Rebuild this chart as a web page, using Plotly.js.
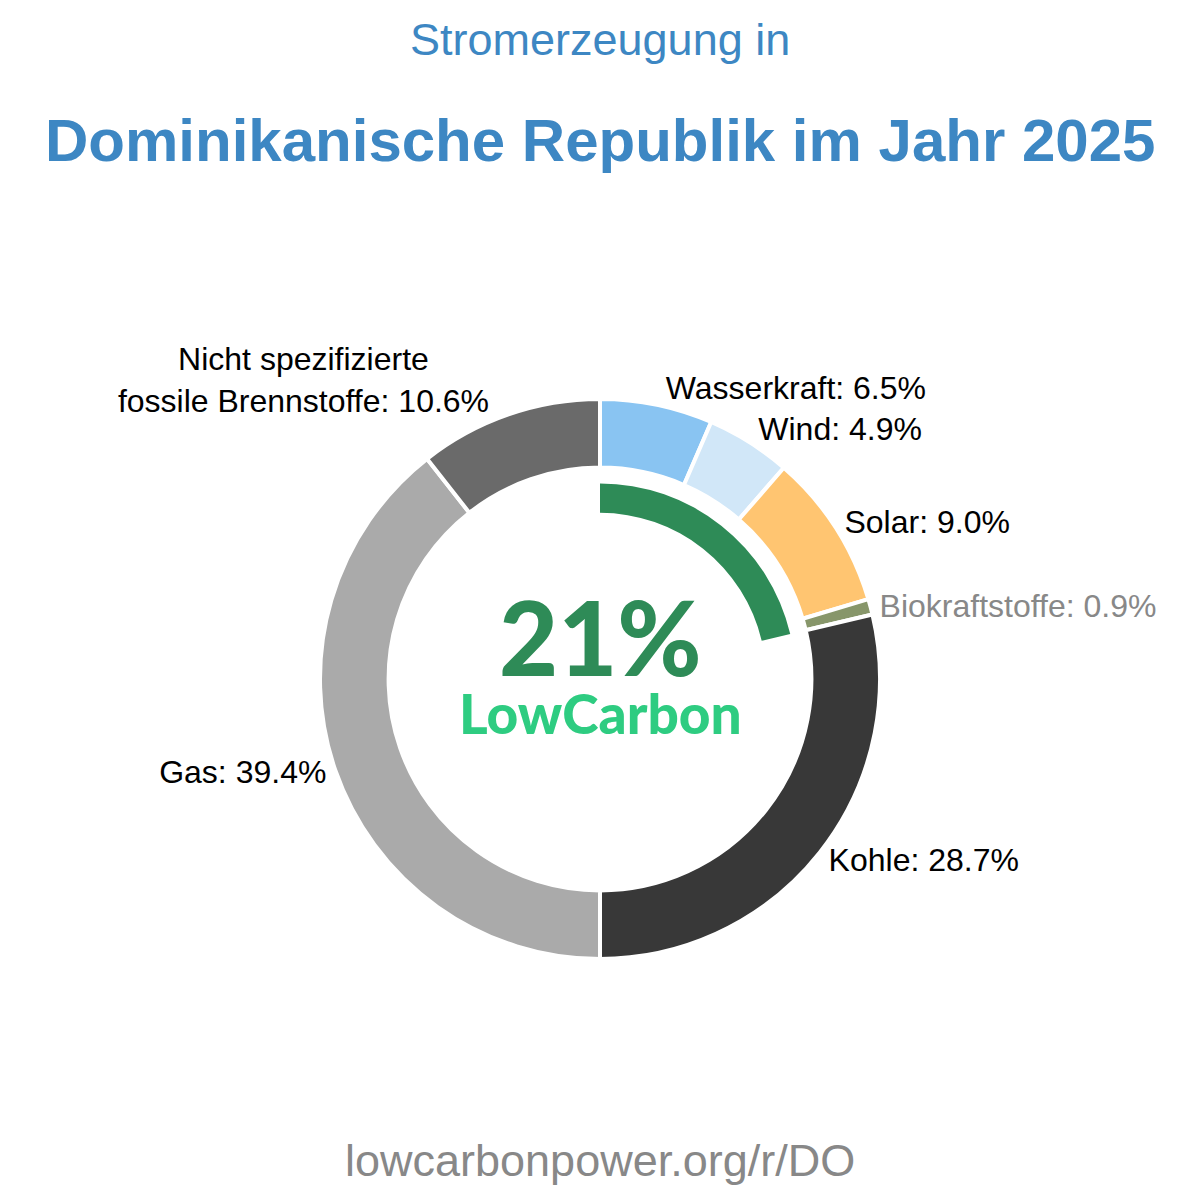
<!DOCTYPE html>
<html>
<head>
<meta charset="utf-8">
<script src="https://cdn.plot.ly/plotly-3.0.1.min.js"></script>
<style>html,body{margin:0;padding:0;background:#fff;}#chart{width:1200px;height:1200px;}</style>
</head>
<body>
<div id="chart"></div>
<script>
const labels = ["Wasserkraft", "Wind", "Solar", "Biokraftstoffe", "Kohle", "Gas", "Nicht spezifizierte<br>fossile Brennstoffe"];
const values = [6.5, 4.9, 9.0, 0.9, 28.7, 39.4, 10.6];
const colors = ["#89c4f2", "#d1e7f8", "#ffc571", "#87966a", "#383838", "#aaaaaa", "#6a6a6a"];
const labelColors = ["#000000", "#000000", "#000000", "#888888", "#000000", "#000000", "#000000"];
const lowCarbonLabels = ["Wasserkraft", "Wind", "Solar", "Biokraftstoffe"];
const lowCarbonText = "21%";
const subtitle = "Stromerzeugung in";
const title = "Dominikanische Republik im Jahr 2025";
const footer = "lowcarbonpower.org/r/DO";

const lowShare = values.filter((v, i) => lowCarbonLabels.includes(labels[i])).reduce((a, b) => a + b, 0);
const total = values.reduce((a, b) => a + b, 0);

const W = 1200, H = 1200;
const cx = 600, cy = 679;
function dom(r) {
  return {
    x: [(cx - r) / W, (cx + r) / W],
    y: [(H - cy - r) / H, (H - cy + r) / H]
  };
}

const font = "Liberation Sans, Arial, sans-serif";

const outer = {
  type: "pie",
  labels: labels,
  values: values,
  sort: false,
  direction: "clockwise",
  rotation: 0,
  hole: 0.755,
  domain: dom(280),
  marker: { colors: colors, line: { color: "#ffffff", width: 4 } },
  textposition: "outside",
  texttemplate: "%{label}: %{value:.1f}%",
  outsidetextfont: { family: font, size: 32, color: labelColors },
  hoverinfo: "label+value",
  showlegend: false
};

const inner = {
  type: "pie",
  labels: ["Low carbon", "Rest"],
  values: [lowShare, total - lowShare],
  sort: false,
  direction: "clockwise",
  rotation: 0,
  hole: 0.85,
  domain: dom(195.5),
  marker: { colors: ["#2e8b57", "rgba(0,0,0,0)"], line: { width: 0 } },
  textinfo: "none",
  hoverinfo: "skip",
  showlegend: false
};

const layout = {
  width: W,
  height: H,
  margin: { l: 0, r: 0, t: 0, b: 0 },
  paper_bgcolor: "#ffffff",
  showlegend: false,
  annotations: [
    { text: subtitle, x: 0.5, y: 1 - 40 / H, xref: "paper", yref: "paper", showarrow: false,
      font: { family: font, size: 45, color: "#3d87c3" }, xanchor: "center", yanchor: "middle" },
    { text: "<b>" + title + "</b>", x: 0.5, y: 1 - 140 / H, xref: "paper", yref: "paper", showarrow: false,
      font: { family: font, size: 60, color: "#3d87c3" }, xanchor: "center", yanchor: "middle" },
    { text: lowCarbonText, x: 0.5, y: 1 - 636 / H, xref: "paper", yref: "paper", showarrow: false,
      font: { family: "Lato, sans-serif", size: 102, weight: 900, color: "#2e8b57" }, xanchor: "center", yanchor: "middle" },
    { text: "LowCarbon", x: 0.5, y: 1 - 713 / H, xref: "paper", yref: "paper", showarrow: false,
      font: { family: "Lato, sans-serif", size: 55, weight: 900, color: "#2ecc81" }, xanchor: "center", yanchor: "middle" },
    { text: footer, x: 0.5, y: 1 - 1160 / H, xref: "paper", yref: "paper", showarrow: false,
      font: { family: font, size: 45, color: "#888888" }, xanchor: "center", yanchor: "middle" }
  ]
};

Plotly.newPlot("chart", [outer, inner], layout, { displayModeBar: false, staticPlot: true });
</script>
</body>
</html>
